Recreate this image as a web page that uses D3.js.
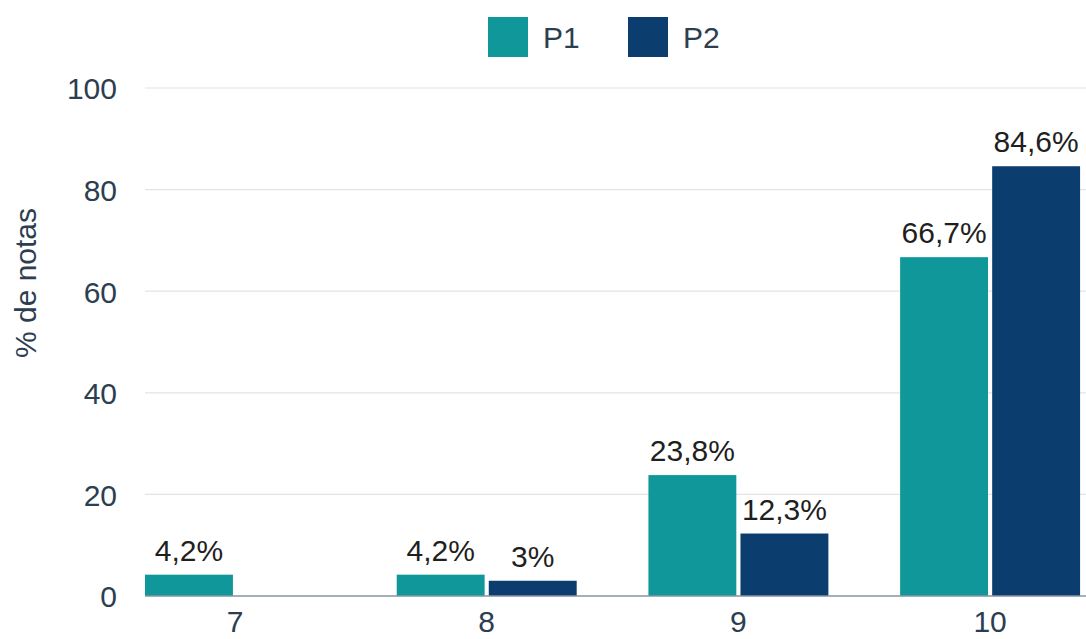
<!DOCTYPE html>
<html><head><meta charset="utf-8">
<script src="https://cdn.jsdelivr.net/npm/d3@7"></script>
<style>body{margin:0;background:#fff}svg{display:block;font-family:"Liberation Sans",Arial,sans-serif}</style>
</head><body>
<svg id="c" width="1086" height="639"></svg>
<script>
const categories = ["7","8","9","10"];
const series = ["P1","P2"];
const p1Values = [4.2, 4.2, 23.8, 66.7];
const p2Values = [0, 3, 12.3, 84.6];
const p1Labels = ["4,2%","4,2%","23,8%","66,7%"];
const p2Labels = [null,"3%","12,3%","84,6%"];
const yTicks = [0,20,40,60,80,100];
const colors = {P1:"#10979a", P2:"#0b3d6f"};
const FS = 30;

const svg = d3.select("#c");
const y = d3.scaleLinear().domain([0,100]).range([596,88]);
const x = d3.scaleBand().domain(categories).range([109.15,1115.95]).paddingInner(0.285).paddingOuter(0.1425);
const xs = d3.scaleBand().domain(series).range([0,x.bandwidth()]).paddingInner(0.045);

const data = categories.map((c,i)=>({cat:c, vals:[
  {s:"P1", v:p1Values[i], l:p1Labels[i]},
  {s:"P2", v:p2Values[i], l:p2Labels[i]}]}));

// gridlines
svg.append("g").selectAll("line").data(yTicks.filter(t=>t>0)).join("line")
  .attr("x1",145).attr("x2",1086).attr("y1",d=>y(d)).attr("y2",d=>y(d))
  .attr("stroke","#e3e3e3").attr("stroke-width",1.2);

// y axis labels
const yAxis = d3.axisLeft(y).tickValues(yTicks).tickSize(0).tickPadding(0);
const gy = svg.append("g").attr("transform","translate(117,0)").call(yAxis);
gy.select(".domain").remove();
gy.selectAll("text").attr("font-size",FS).attr("fill","#2c3e50").attr("font-family","Liberation Sans, Arial, sans-serif").attr("dy","0.36em");

// bars
const g = svg.append("g").selectAll("g").data(data).join("g")
  .attr("transform",d=>`translate(${x(d.cat)},0)`);
g.selectAll("rect").data(d=>d.vals).join("rect")
  .attr("x",d=>xs(d.s)).attr("width",xs.bandwidth())
  .attr("y",d=>y(d.v)).attr("height",d=>y(0)-y(d.v))
  .attr("fill",d=>colors[d.s]);
g.selectAll("text").data(d=>d.vals.filter(v=>v.l)).join("text")
  .attr("x",d=>xs(d.s)+xs.bandwidth()/2).attr("y",d=>y(d.v)-14)
  .attr("text-anchor","middle").attr("font-size",FS).attr("fill","#1f1f1f").text(d=>d.l);

// x axis
svg.append("line").attr("x1",145).attr("x2",1086).attr("y1",y(0)).attr("y2",y(0))
  .attr("stroke","#8794a6").attr("stroke-width",1.5);
const xAxis = d3.axisBottom(x).tickSize(0).tickPadding(0);
const gx = svg.append("g").attr("transform",`translate(0,${y(0)})`).call(xAxis);
gx.select(".domain").remove();
gx.selectAll("text").attr("font-size",FS).attr("fill","#2c3e50").attr("font-family","Liberation Sans, Arial, sans-serif").attr("dy","1.2em").attr("y",0);

// y title
svg.append("text").attr("transform","translate(36,283) rotate(-90)").attr("text-anchor","middle")
  .attr("font-size",FS).attr("fill","#2c3e50").text("% de notas");

// legend
const leg = svg.append("g").selectAll("g").data(series).join("g")
  .attr("transform",(d,i)=>`translate(${488+i*140},17)`);
leg.append("rect").attr("width",40).attr("height",40).attr("fill",d=>colors[d]);
leg.append("text").attr("x",55).attr("y",20).attr("dy","0.36em").attr("font-size",FS).attr("fill","#2c3e50").text(d=>d);
</script>
</body></html>
